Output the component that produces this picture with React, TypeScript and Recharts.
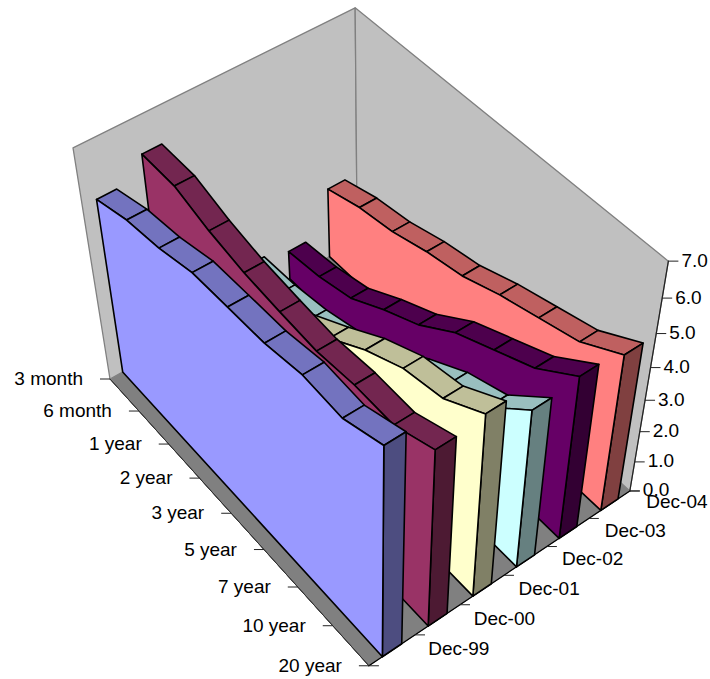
// Treasury yield curves, December 1999-2004, as a 3-D area chart on a Recharts scatter plane.
import React from "react";
import { ScatterChart, Scatter, XAxis, YAxis } from "recharts";

const WIDTH = 710;
const HEIGHT = 679;

const tenors = ["3 month", "6 month", "1 year", "2 year", "3 year", "5 year", "7 year", "10 year", "20 year"];
const dates = ["Dec-99", "Dec-00", "Dec-01", "Dec-02", "Dec-03", "Dec-04"];
const yieldTicks = [0, 1, 2, 3, 4, 5, 6, 7];

const dec99 = [5.39, 5.72, 5.87, 6.15, 6.19, 6.22, 6.41, 6.32, 6.72];
const dec00 = [5.97, 5.96, 5.62, 5.39, 5.27, 5.18, 5.28, 5.24, 5.69];
const dec01 = [1.75, 1.85, 2.2, 3.04, 3.69, 4.39, 4.92, 5.14, 5.82];
const dec02 = [1.17, 1.22, 1.4, 1.72, 2.2, 2.95, 3.61, 4.02, 5.05];
const dec03 = [0.91, 1.05, 1.33, 1.96, 2.5, 3.29, 3.81, 4.33, 5.17];
const dec04 = [2.21, 2.53, 2.7, 3.02, 3.24, 3.65, 3.97, 4.29, 4.96];
const seriesValues = [dec99, dec00, dec01, dec02, dec03, dec04];

// front, top and end-face colours of each ribbon
const seriesColors = [
  ["#9999FF", "#7373BF", "#4D4D80"],
  ["#993366", "#732650", "#4D1A33"],
  ["#FFFFCC", "#BFBF99", "#808066"],
  ["#CCFFFF", "#99BFBF", "#668080"],
  ["#660066", "#4D004D", "#330033"],
  ["#FF8080", "#BF6060", "#804040"],
];

const MAX_YIELD = 7;
const RIBBON_HALF_DEPTH = 0.035;

type Pt = { x: number; y: number };
type Face = Pt & { verts: Pt[]; fill: string; stroke: string; strokeWidth: number };

// Perspective camera: u runs along the tenors, v along the dates, h up the yield axis.
const origin = [110, 379];
const vanishU = [-1794, -1730];
const vanishV = [4202, -1902];
const vanishH = [373, 2022];
const weightU = -0.1197;
const weightV = 0.0643;
const weightH = -0.1233;

const project = (u: number, v: number, h: number): Pt => {
  const a = weightU * u;
  const b = weightV * v;
  const c = weightH * h;
  const w = 1 + a + b + c;
  return {
    x: (origin[0] + a * vanishU[0] + b * vanishV[0] + c * vanishH[0]) / w,
    y: (origin[1] + a * vanishU[1] + b * vanishV[1] + c * vanishH[1]) / w,
  };
};

const face = (verts: Pt[], fill: string, stroke = "#000", strokeWidth = 1.6): Face => ({
  ...verts[0],
  verts,
  fill,
  stroke,
  strokeWidth,
});

const tenorPos = (i: number) => i / (tenors.length - 1);
const level = (value: number) => value / MAX_YIELD;

const wallFaces: Face[] = [
  face([project(0, 0, 0), project(1, 0, 0), project(1, 1, 0), project(0, 1, 0)], "#808080", "#808080", 1),
  face([project(0, 0, 0), project(0, 1, 0), project(0, 1, 1), project(0, 0, 1)], "#C0C0C0", "#808080", 1.3),
  face([project(0, 1, 0), project(1, 1, 0), project(1, 1, 1), project(0, 1, 1)], "#C0C0C0", "#808080", 1.3),
  // axis lines along the floor edges and up the yield scale
  face([project(0, 0, 0), project(1, 0, 0)], "none", "#333", 1),
  face([project(1, 0, 0), project(1, 1, 0)], "none", "#000", 1.3),
  face([project(1, 1, 0), project(1, 1, 1)], "none", "#222", 1.2),
];

const ribbonFaces = (values: number[], index: number): Face[] => {
  const center = (index + 0.5) / dates.length;
  const vFront = center - RIBBON_HALF_DEPTH;
  const vBack = center + RIBBON_HALF_DEPTH;
  const [frontColor, topColor, endColor] = seriesColors[index];
  const last = values.length - 1;

  const tops = values.slice(0, last).map((value, i) =>
    face(
      [
        project(tenorPos(i), vFront, level(value)),
        project(tenorPos(i + 1), vFront, level(values[i + 1])),
        project(tenorPos(i + 1), vBack, level(values[i + 1])),
        project(tenorPos(i), vBack, level(value)),
      ],
      topColor,
    ),
  );
  const end = face(
    [
      project(1, vFront, 0),
      project(1, vBack, 0),
      project(1, vBack, level(values[last])),
      project(1, vFront, level(values[last])),
    ],
    endColor,
  );
  const front = face(
    [
      project(0, vFront, 0),
      project(1, vFront, 0),
      ...values.map((value, i) => project(tenorPos(i), vFront, level(value))).reverse(),
    ],
    frontColor,
  );
  return [...tops, end, front];
};

type Label = Pt & { text: string; tickDx: number; textX: number; textY: number; anchor: "start" | "end" };

const tenorLabels: Label[] = tenors.map((text, i) => {
  const p = project(tenorPos(i), 0, 0);
  return { ...p, text, tickDx: -10, textX: -27, textY: -0.5, anchor: "end" };
});
const dateLabels: Label[] = dates.map((text, i) => {
  const v = (i + 1) / dates.length;
  const p = project(1, v, 0);
  return { ...p, text, tickDx: 10, textX: 12.5 + 4 * v, textY: 14.5 - 3.5 * v, anchor: "start" };
});
const yieldLabels: Label[] = yieldTicks.map((tick) => {
  const p = project(1, 1, level(tick));
  return { ...p, text: tick.toFixed(1), tickDx: 10, textX: 13, textY: -1, anchor: "start" };
});
// the corner of the date axis carries a tick with no label
const axisStart: Label = { ...project(1, 0, 0), text: "", tickDx: 10, textX: 0, textY: 0, anchor: "start" };

const FaceShape = (props: any) => {
  const { cx, cy, payload } = props;
  const points = payload.verts
    .map((p: Pt) => `${cx + p.x - payload.x},${cy + p.y - payload.y}`)
    .join(" ");
  return (
    <polygon
      points={points}
      fill={payload.fill}
      stroke={payload.stroke}
      strokeWidth={payload.strokeWidth}
      strokeLinejoin="round"
    />
  );
};

const TickShape = (props: any) => {
  const { cx, cy, payload } = props;
  return (
    <g>
      <line x1={cx} y1={cy} x2={cx + payload.tickDx} y2={cy} stroke="#222" strokeWidth={1} />
      <text
        x={cx + payload.textX}
        y={cy + payload.textY}
        textAnchor={payload.anchor}
        dominantBaseline="central"
        fontFamily="Liberation Sans"
        fontSize={19}
        fill="#000"
      >
        {payload.text}
      </text>
    </g>
  );
};

const App: React.FC = () => (
  <div style={{ position: "absolute", left: 0, top: 0, width: WIDTH, height: HEIGHT }}>
    <ScatterChart width={WIDTH} height={HEIGHT} margin={{ top: 0, right: 0, bottom: 0, left: 0 }}>
      <XAxis type="number" dataKey="x" domain={[0, WIDTH]} hide />
      <YAxis type="number" dataKey="y" domain={[0, HEIGHT]} reversed hide />
      <Scatter data={wallFaces} shape={FaceShape} isAnimationActive={false} />
      {[...seriesValues.keys()].reverse().map((i) => (
        <Scatter key={dates[i]} data={ribbonFaces(seriesValues[i], i)} shape={FaceShape} isAnimationActive={false} />
      ))}
      <Scatter data={[...tenorLabels, ...yieldLabels, ...dateLabels, axisStart]} shape={TickShape} isAnimationActive={false} />
    </ScatterChart>
  </div>
);

export default App;
